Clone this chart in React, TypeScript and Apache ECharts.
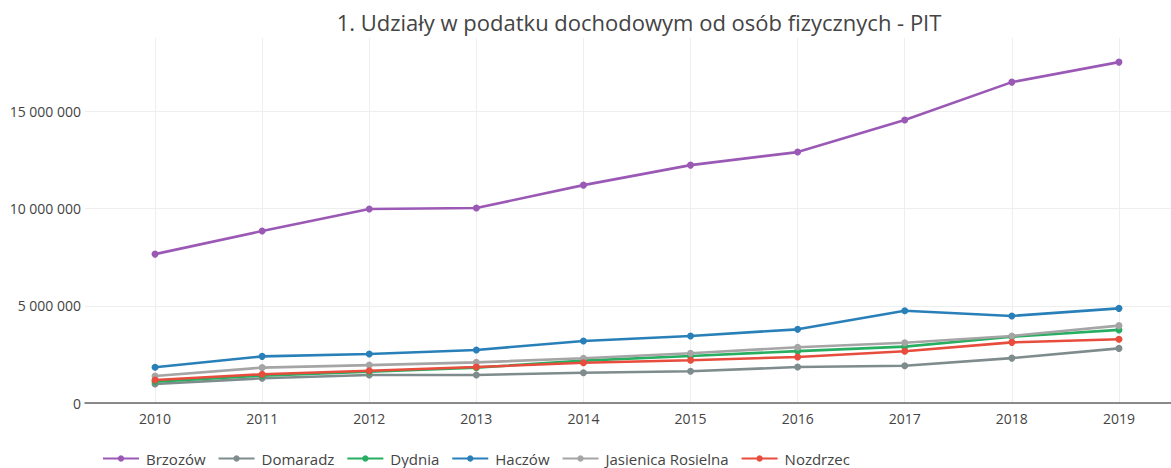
import React, { useEffect, useRef } from "react";
import * as echarts from "echarts";

const years = [2010, 2011, 2012, 2013, 2014, 2015, 2016, 2017, 2018, 2019];
const brzozow = [7660000, 8850000, 9980000, 10030000, 11210000, 12240000, 12910000, 14560000, 16510000, 17540000];
const domaradz = [980000, 1270000, 1440000, 1440000, 1560000, 1630000, 1850000, 1920000, 2310000, 2810000];
const dydnia = [1100000, 1410000, 1610000, 1820000, 2180000, 2420000, 2670000, 2900000, 3410000, 3760000];
const haczow = [1840000, 2400000, 2520000, 2730000, 3190000, 3450000, 3790000, 4750000, 4480000, 4870000];
const jasienica = [1390000, 1820000, 1950000, 2090000, 2300000, 2560000, 2870000, 3100000, 3450000, 3980000];
const nozdrzec = [1180000, 1480000, 1660000, 1850000, 2070000, 2200000, 2370000, 2660000, 3120000, 3280000];
const yTicks = [0, 5000000, 10000000, 15000000];

const seriesDefs = [
  { name: "Brzozów", data: brzozow, color: "#9b59b6" },
  { name: "Domaradz", data: domaradz, color: "#7f8c8d" },
  { name: "Dydnia", data: dydnia, color: "#27ae60" },
  { name: "Haczów", data: haczow, color: "#2980b9" },
  { name: "Jasienica Rosielna", data: jasienica, color: "#a5a5a5" },
  { name: "Nozdrzec", data: nozdrzec, color: "#e74c3c" },
];

const fmt = (v: number) => String(Math.round(v)).replace(/\B(?=(\d{3})+(?!\d))/g, " ");

export default function App() {
  const ref = useRef<HTMLDivElement>(null);
  useEffect(() => {
    if (!ref.current) return;
    const chart = echarts.init(ref.current, null, { renderer: "svg" });
    const font = "'Open Sans', Verdana, Arial, sans-serif";
    chart.setOption({
      animation: false,
      textStyle: { fontFamily: font },
      title: {
        text: "1. Udziały w podatku dochodowym od osób fizycznych - PIT",
        left: 634,
        textAlign: "center",
        top: 6,
        textStyle: { fontFamily: font, fontSize: 22, fontWeight: "normal", color: "#444", letterSpacing: 0.9 },
      },
      grid: { left: 85, right: 0, top: 38, bottom: 65, containLabel: false },
      legend: {
        top: 446,
        left: 97,
        itemWidth: 36,
        itemHeight: 8,
        itemGap: 12,
        textStyle: { fontFamily: font, fontSize: 15, color: "#444", padding: [0, 0, 0, 2] },
        data: seriesDefs.map((s) => s.name),
      },
      xAxis: {
        type: "value",
        min: 2009.346,
        max: 2019.486,
        axisLine: { show: true, lineStyle: { color: "#666", width: 1.5 } },
        axisTick: { show: false, customValues: years },
        axisLabel: {
          customValues: years,
          color: "#444",
          fontSize: 14,
          margin: 8,
          formatter: (v: number) => String(v),
        },
        splitLine: { show: true, lineStyle: { color: "#eee" } },
      },
      yAxis: {
        type: "value",
        min: 0,
        max: 18780000,
        axisLine: { show: false },
        axisTick: { show: false, customValues: yTicks },
        axisLabel: {
          customValues: yTicks,
          color: "#444",
          fontSize: 14,
          margin: 4,
          formatter: (v: number) => fmt(v),
        },
        splitLine: { show: true, lineStyle: { color: "#eee" } },
      },
      series: seriesDefs.map((s) => ({
        name: s.name,
        type: "line",
        data: s.data.map((v, i) => [years[i], v]),
        color: s.color,
        symbol: "circle",
        symbolSize: 7,
        lineStyle: { width: 2.6, color: s.color },
        itemStyle: { color: s.color },
      })),
    });
    return () => chart.dispose();
  }, []);
  return <div ref={ref} style={{ width: 1171, height: 468, position: "absolute", left: 0, top: 0 }} />;
}
